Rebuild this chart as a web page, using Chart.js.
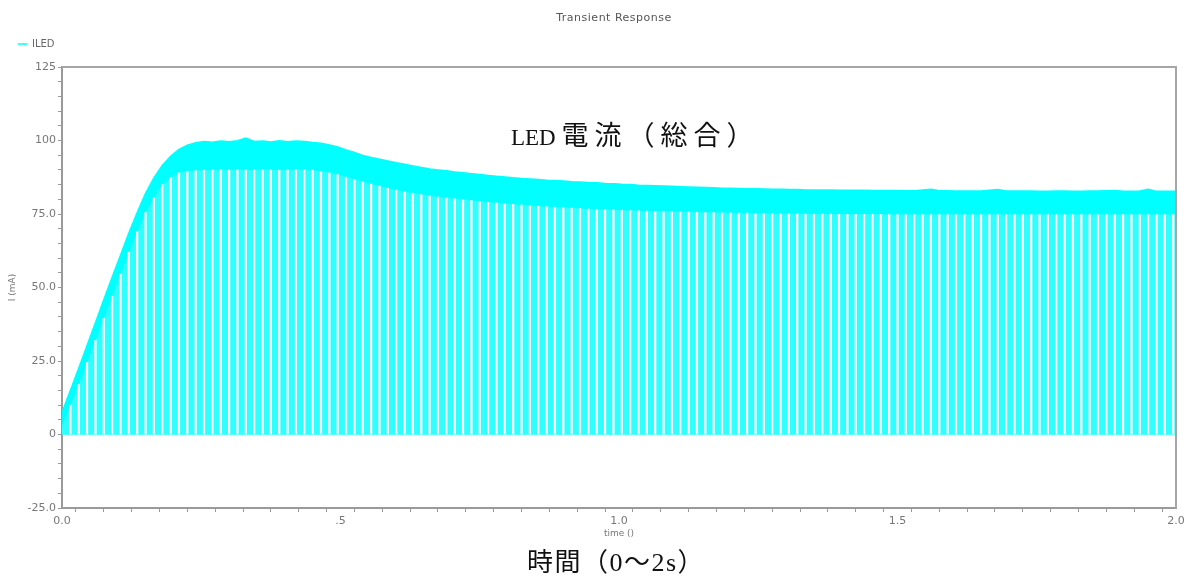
<!DOCTYPE html>
<html>
<head>
<meta charset="utf-8">
<script src="https://cdn.jsdelivr.net/npm/chart.js@4/dist/chart.umd.min.js"></script>
<style>
  html, body { margin: 0; padding: 0; background: #ffffff; }
  #wrap { position: relative; width: 1197px; height: 583px; overflow: hidden; }
  canvas { display: block; }
  .note {
    position: absolute;
    font-family: "Liberation Serif", "Noto Sans CJK JP", serif;
    color: #111;
    white-space: nowrap;
    line-height: 1;
  }
  .note .cjk { font-size: 27px; letter-spacing: 6px; }
</style>
</head>
<body>
<div id="wrap">
  <canvas id="chart" width="1197" height="583"></canvas>
  <div class="note" id="curveNote" style="left:511px; top:123px; font-size:23px;">LED <span class="cjk">電流（総合）</span></div>
  <div class="note" id="axisNote" style="left:527px; top:550px; font-size:26px; letter-spacing:1.5px;">時間（0〜2s）</div>
</div>
<script>
// Sample instants along the transient (s)
const times = [
  0.000,0.015,0.030,0.045,0.060,0.075,0.090,0.105,0.120,0.135,
  0.150,0.165,0.180,0.195,0.210,0.225,0.240,0.255,0.270,0.285,
  0.300,0.315,0.330,0.345,0.360,0.375,0.390,0.405,0.420,0.435,
  0.450,0.465,0.480,0.495,0.510,0.525,0.540,0.555,0.570,0.585,
  0.600,0.615,0.630,0.645,0.660,0.675,0.690,0.705,0.720,0.735,
  0.750,0.765,0.780,0.795,0.810,0.825,0.840,0.855,0.870,0.885,
  0.900,0.915,0.930,0.945,0.960,0.975,0.990,1.005,1.020,1.035,
  1.050,1.065,1.080,1.095,1.110,1.125,1.140,1.155,1.170,1.185,
  1.200,1.215,1.230,1.245,1.260,1.275,1.290,1.305,1.320,1.335,
  1.350,1.365,1.380,1.395,1.410,1.425,1.440,1.455,1.470,1.485,
  1.500,1.515,1.530,1.545,1.560,1.575,1.590,1.605,1.620,1.635,
  1.650,1.665,1.680,1.695,1.710,1.725,1.740,1.755,1.770,1.785,
  1.800,1.815,1.830,1.845,1.860,1.875,1.890,1.905,1.920,1.935,
  1.950,1.965,1.980,1.995,2.000
];

// Peak LED current of the ripple (mA)
const peakCurrent = [
  7.5,15.0,22.5,30.3,38.0,45.8,53.5,61.0,68.5,75.5,
  82.0,87.3,91.5,94.6,97.0,98.4,99.2,99.7,99.4,99.8,
  99.6,99.9,100.8,99.7,99.8,99.5,99.9,99.6,99.8,99.7,
  99.3,99.1,98.5,97.8,96.8,95.9,94.9,94.2,93.6,93.0,
  92.4,91.9,91.3,90.8,90.3,90.0,89.7,89.3,89.0,88.7,
  88.4,88.1,87.8,87.6,87.3,87.1,86.9,86.7,86.5,86.4,
  86.2,86.0,85.9,85.7,85.6,85.4,85.3,85.1,85.0,84.8,
  84.7,84.6,84.5,84.4,84.3,84.2,84.1,84.0,83.9,83.8,
  83.8,83.7,83.6,83.6,83.5,83.4,83.4,83.3,83.3,83.2,
  83.2,83.2,83.2,83.1,83.1,83.1,83.1,83.0,83.0,83.0,
  83.0,82.9,82.9,83.2,83.4,82.9,82.9,82.8,82.8,82.8,
  82.8,83.1,83.3,82.8,82.8,82.8,82.8,82.7,82.7,82.8,
  82.8,82.7,82.7,82.8,82.8,82.9,83.0,82.7,82.7,82.8,
  83.4,82.7,82.7,82.7,82.7
];

// Bottom of the ripple band (mA); each switching cycle drops to 0 from here
const rippleFloor = [
  3.0,10.0,17.0,24.5,32.0,39.5,47.0,54.5,62.0,69.0,
  75.5,80.5,85.0,87.5,89.0,89.5,89.8,89.9,90.0,90.1,
  90.0,90.1,90.0,90.0,90.1,90.0,89.9,90.0,90.1,90.0,
  89.9,89.5,89.0,88.4,87.6,86.8,86.0,85.2,84.5,83.8,
  83.2,82.6,82.1,81.6,81.2,80.8,80.5,80.2,79.9,79.6,
  79.3,79.0,78.8,78.5,78.3,78.1,77.9,77.7,77.5,77.3,
  77.2,77.0,76.9,76.7,76.6,76.5,76.4,76.3,76.2,76.1,
  76.0,75.9,75.9,75.8,75.7,75.7,75.6,75.5,75.5,75.4,
  75.4,75.3,75.3,75.2,75.2,75.2,75.1,75.1,75.1,75.0,
  75.0,75.0,75.0,74.9,74.9,74.9,74.9,74.9,74.9,74.8,
  74.8,74.8,74.8,74.8,74.8,74.8,74.8,74.8,74.8,74.8,
  74.8,74.8,74.8,74.8,74.8,74.8,74.8,74.8,74.8,74.8,
  74.8,74.8,74.8,74.8,74.8,74.8,74.8,74.8,74.8,74.8,
  74.8,74.8,74.8,74.8,74.8
];

// Axis tick labels
const xTickValues = [0, 0.5, 1, 1.5, 2];
const xTickLabels = ['0.0', '.5', '1.0', '1.5', '2.0'];
const yTickValues = [-25, 0, 25, 50, 75, 100, 125];
const yTickLabels = ['-25.0', '0', '25.0', '50.0', '75.0', '100', '125'];

const chartTitle = 'Transient Response';

function labelFor(v, values, labels) {
  const i = values.findIndex(a => Math.abs(a - v) < 1e-6);
  return i < 0 ? '' : labels[i];
}

const upperPts = times.map((t, i) => ({ x: t, y: peakCurrent[i] }));
const floorPts = times.map((t, i) => ({ x: t, y: rippleFloor[i] }));
// current drop-outs of each cycle, from 0 up to the ripple floor
const dropPts = times.slice(1, -1).map((t, i) => ({ x: t, y: [0, rippleFloor[i + 1]] }));

// grey frame on top and right, plus the title centred over the plot
const framePlugin = {
  id: 'frame',
  afterInit(chart) {
    // leave a little more room between the legend row and the plot
    const lg = chart.legend;
    if (lg) {
      const fit = lg.fit;
      lg.fit = function () { fit.call(this); this.height += 8; };
    }
  },
  afterDraw(chart) {
    const { ctx, chartArea: a } = chart;
    ctx.save();
    ctx.strokeStyle = '#a6a6a6';
    ctx.lineWidth = 2;
    ctx.beginPath();
    ctx.moveTo(a.left, a.top);
    ctx.lineTo(a.right, a.top);
    ctx.lineTo(a.right, a.bottom);
    ctx.stroke();
    ctx.fillStyle = '#555555';
    ctx.font = '11px "DejaVu Sans", sans-serif';
    if ('letterSpacing' in ctx) ctx.letterSpacing = '0.5px';
    ctx.textAlign = 'center';
    ctx.textBaseline = 'middle';
    ctx.fillText(chartTitle, (a.left + a.right) / 2 - 5, 18);
    ctx.restore();
  }
};

Chart.defaults.font.family = '"DejaVu Sans", sans-serif';

new Chart(document.getElementById('chart'), {
  type: 'line',
  data: {
    datasets: [
      {
        label: 'ILED',
        data: upperPts,
        borderColor: '#00ffff',
        backgroundColor: '#00ffff',
        borderWidth: 1.5,
        pointRadius: 0,
        pointStyle: 'line',
        tension: 0,
        fill: 'origin',
        order: 3
      },
      {
        label: 'floor',
        data: floorPts,
        borderColor: 'rgba(0,0,0,0)',
        backgroundColor: '#2effff',
        borderWidth: 0,
        pointRadius: 0,
        tension: 0,
        fill: 'origin',
        order: 2
      },
      {
        type: 'bar',
        label: 'drop',
        data: dropPts,
        backgroundColor: '#ffffff',
        borderWidth: 0,
        barThickness: 1.6,
        order: 1
      }
    ]
  },
  options: {
    responsive: false,
    animation: false,
    events: [],
    layout: { padding: { left: 7, right: 21, top: 28, bottom: 44 } },
    plugins: {
      title: { display: false },
      legend: {
        display: true,
        position: 'top',
        align: 'start',
        labels: {
          filter: item => item.text === 'ILED',
          usePointStyle: true,
          pointStyleWidth: 9,
          boxHeight: 10,
          color: '#666666',
          font: { size: 10 },
          padding: 11
        }
      },
      tooltip: { enabled: false }
    },
    scales: {
      x: {
        type: 'linear',
        min: 0,
        max: 2,
        offset: false,
        afterFit(s) { s.height = 31; },
        border: { color: '#9a9a9a', width: 2 },
        grid: { drawOnChartArea: false, drawTicks: true, tickLength: 4, color: '#9a9a9a' },
        ticks: {
          stepSize: 0.05,
          autoSkip: false,
          maxRotation: 0,
          color: '#777777',
          font: { size: 11 },
          padding: 3,
          callback: v => labelFor(v, xTickValues, xTickLabels)
        },
        title: {
          display: true,
          text: 'time ()',
          color: '#777777',
          font: { size: 9 },
          padding: { top: 0, bottom: 0 }
        }
      },
      y: {
        type: 'linear',
        min: -25,
        max: 125,
        afterFit(s) { s.width = 55; },
        border: { color: '#9a9a9a', width: 2 },
        grid: { drawOnChartArea: false, drawTicks: true, tickLength: 4, color: '#9a9a9a' },
        ticks: {
          stepSize: 5,
          autoSkip: false,
          color: '#777777',
          font: { size: 11 },
          padding: 2,
          callback: v => labelFor(v, yTickValues, yTickLabels)
        },
        title: {
          display: true,
          text: 'I (mA)',
          color: '#777777',
          font: { size: 9 },
          padding: { top: 0, bottom: 0 }
        }
      }
    }
  },
  plugins: [framePlugin]
});
</script>
</body>
</html>
